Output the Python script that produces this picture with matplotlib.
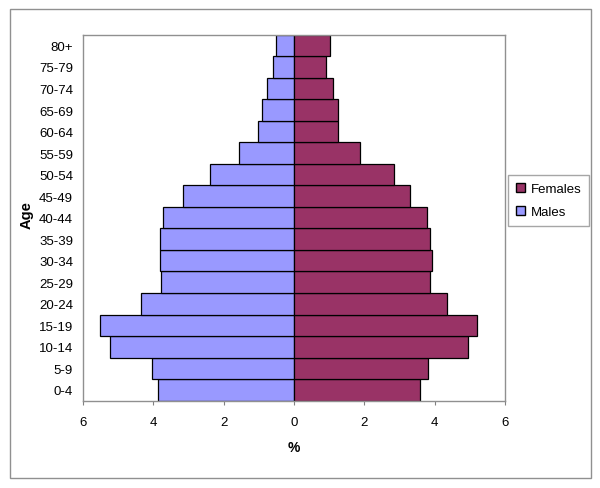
import matplotlib
matplotlib.use("Agg")
import matplotlib.pyplot as plt
from matplotlib.patches import Rectangle, Patch
import numpy as np

plt.rcParams['font.family'] = ['Liberation Sans', 'DejaVu Sans']

age_groups = ['0-4', '5-9', '10-14', '15-19', '20-24', '25-29', '30-34', '35-39',
              '40-44', '45-49', '50-54', '55-59', '60-64', '65-69', '70-74',
              '75-79', '80+']
males = [3.87, 4.02, 5.23, 5.52, 4.35, 3.77, 3.80, 3.80, 3.71, 3.14, 2.40,
         1.56, 1.01, 0.92, 0.78, 0.61, 0.51]
females = [3.59, 3.80, 4.95, 5.19, 4.35, 3.87, 3.91, 3.85, 3.79, 3.30, 2.83,
           1.87, 1.26, 1.26, 1.11, 0.92, 1.03]
xticks = [-6, -4, -2, 0, 2, 4, 6]

fig = plt.figure(figsize=(6, 4.89), dpi=100)
ax = fig.add_axes([0.138, 0.1786, 0.704, 0.7484])

y = np.arange(len(age_groups))
ax.barh(y, [-m for m in males], height=1.0, color='#9999FF',
        edgecolor='black', linewidth=0.9, label='Males')
ax.barh(y, females, height=1.0, color='#993366',
        edgecolor='black', linewidth=0.9, label='Females')

ax.set_xlim(-6, 6)
ax.set_ylim(-0.5, len(age_groups) - 0.5)
ax.set_xticks(xticks)
ax.set_xticklabels([str(abs(t)) for t in xticks])
ax.set_yticks(y)
ax.set_yticklabels(age_groups)
ax.tick_params(axis='x', length=3, color='#808080', labelsize=9.5, pad=8)
ax.tick_params(axis='y', length=0, labelsize=9.5, pad=7)
for s in ax.spines.values():
    s.set_color('#909090')
    s.set_linewidth(1.0)

ax.set_xlabel('%', fontsize=10, fontweight='bold', labelpad=9)
ax.set_ylabel('Age', fontsize=10.5, fontweight='bold')
ax.yaxis.set_label_coords(-0.117, 0.51)

handles = [Patch(facecolor='#993366', edgecolor='black', label='Females'),
           Patch(facecolor='#9999FF', edgecolor='black', label='Males')]
leg = fig.legend(handles=handles, loc='upper left',
                 bbox_to_anchor=(508 / 600, 1 - 176 / 489),
                 fontsize=9.5, frameon=True, fancybox=False,
                 handlelength=0.7, handleheight=0.7, handletextpad=0.4,
                 borderpad=0.6, labelspacing=0.8, borderaxespad=0)
leg.get_frame().set_edgecolor('#909090')
leg.get_frame().set_linewidth(1.0)

# outer chart border
fig.patches.append(Rectangle((10 / 600, 1 - 479 / 489), 581 / 600, 469 / 489,
                             transform=fig.transFigure, fill=False,
                             edgecolor='#909090', linewidth=1.0))

fig.savefig('out.png', dpi=100)
